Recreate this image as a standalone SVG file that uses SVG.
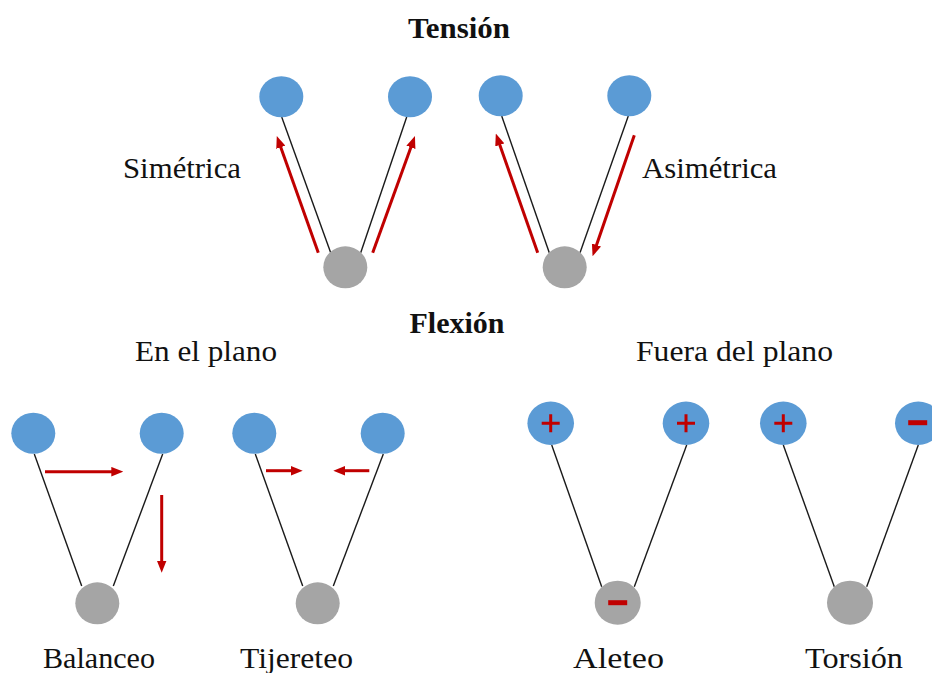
<svg xmlns="http://www.w3.org/2000/svg" width="932" height="673" viewBox="0 0 932 673">
<style>
.blue{fill:#5B9BD5}
.gray{fill:#A5A5A5}
.bond{stroke:#1a1a1a;stroke-width:1.4;fill:none}
.arr{stroke:#C00000;stroke-width:3;fill:none;marker-end:url(#ah)}
.sign{stroke:#C00000;fill:none}
.t{font-family:"Liberation Serif","Times New Roman",serif;font-size:29px;fill:#111}
.b{font-weight:bold}
</style>
<defs>
<marker id="ah" markerUnits="userSpaceOnUse" markerWidth="12" markerHeight="10" viewBox="0 0 10 8" refX="3" refY="4" orient="auto">
<path d="M0,0 L10,4 L0,8 z" fill="#C00000"/>
</marker>
</defs>
<rect width="932" height="673" fill="#fff"/>

<g id="labels">
<text class="t b" x="459" y="38" text-anchor="middle" textLength="102" lengthAdjust="spacingAndGlyphs">Tensión</text>
<text class="t" x="123" y="178" textLength="118" lengthAdjust="spacingAndGlyphs">Simétrica</text>
<text class="t" x="642" y="178" textLength="135" lengthAdjust="spacingAndGlyphs">Asimétrica</text>
<text class="t b" x="457" y="333" text-anchor="middle" textLength="95" lengthAdjust="spacingAndGlyphs">Flexión</text>
<text class="t" x="135" y="361" textLength="142" lengthAdjust="spacingAndGlyphs">En el plano</text>
<text class="t" x="636" y="361" textLength="197" lengthAdjust="spacingAndGlyphs">Fuera del plano</text>
<text class="t" x="43" y="668" textLength="112" lengthAdjust="spacingAndGlyphs">Balanceo</text>
<text class="t" x="240" y="668" textLength="113" lengthAdjust="spacingAndGlyphs">Tijereteo</text>
<text class="t" x="573" y="668" textLength="91" lengthAdjust="spacingAndGlyphs">Aleteo</text>
<text class="t" x="805" y="668" textLength="98" lengthAdjust="spacingAndGlyphs">Torsión</text>
</g>

<g id="connectors">
<line class="bond" x1="281.7" y1="117" x2="330.7" y2="252.7"/>
<line class="bond" x1="406.7" y1="117" x2="360.7" y2="252.7"/>
<line class="bond" x1="501.7" y1="116" x2="549.3" y2="252.7"/>
<line class="bond" x1="628.3" y1="116" x2="580" y2="252.7"/>
<line class="bond" x1="34.3" y1="454" x2="81.7" y2="586"/>
<line class="bond" x1="162.7" y1="454" x2="113.3" y2="586"/>
<line class="bond" x1="255.3" y1="454" x2="302.7" y2="586"/>
<line class="bond" x1="383.3" y1="454" x2="333.3" y2="586"/>
<line class="bond" x1="551.7" y1="445" x2="601.7" y2="586.7"/>
<line class="bond" x1="686.7" y1="445" x2="634.3" y2="586.7"/>
<line class="bond" x1="783.3" y1="445" x2="834.3" y2="586.7"/>
<line class="bond" x1="918.3" y1="445" x2="866.7" y2="586.7"/>

<line class="arr" x1="318.3" y1="252.7" x2="279.6" y2="143.9"/>
<line class="arr" x1="372.7" y1="252.7" x2="412.1" y2="143.9"/>
<line class="arr" x1="537.7" y1="252.7" x2="498.6" y2="141.5"/>
<line class="arr" x1="634.3" y1="135.3" x2="595.3" y2="248.4"/>
<line class="arr" x1="45" y1="471.7" x2="114.9" y2="471.7"/>
<line class="arr" x1="161.7" y1="495" x2="161.7" y2="564.3"/>
<line class="arr" x1="266" y1="470.7" x2="294.3" y2="470.7"/>
<line class="arr" x1="369.3" y1="470.7" x2="341.7" y2="470.7"/>
</g>

<g id="sym-left"><ellipse class="blue" cx="281.3" cy="96.7" rx="22" ry="20.5"/></g>
<g id="sym-right"><ellipse class="blue" cx="410" cy="96.7" rx="22" ry="20.5"/></g>
<g id="sym-center"><ellipse class="gray" cx="345.3" cy="267.3" rx="22" ry="21"/></g>

<g id="asym-left"><ellipse class="blue" cx="500.7" cy="95.7" rx="22" ry="20.5"/></g>
<g id="asym-right"><ellipse class="blue" cx="629.3" cy="95.7" rx="22" ry="20.5"/></g>
<g id="asym-center"><ellipse class="gray" cx="564.7" cy="267.3" rx="22" ry="21"/></g>

<g id="bal-left"><ellipse class="blue" cx="33.3" cy="433.3" rx="22" ry="20.5"/></g>
<g id="bal-right"><ellipse class="blue" cx="161.7" cy="433.3" rx="22" ry="20.5"/></g>
<g id="bal-center"><ellipse class="gray" cx="97.3" cy="603.3" rx="22" ry="21"/></g>

<g id="tij-left"><ellipse class="blue" cx="254.3" cy="433.3" rx="22" ry="20.5"/></g>
<g id="tij-right"><ellipse class="blue" cx="382.7" cy="433.3" rx="22" ry="20.5"/></g>
<g id="tij-center"><ellipse class="gray" cx="317.7" cy="603.3" rx="22" ry="21"/></g>

<g id="ale-left"><ellipse class="blue" cx="550.7" cy="423.3" rx="23.3" ry="21.7"/><path class="sign" stroke-width="3" d="M541.7,423.3 H559.7 M550.7,414.3 V432.3"/></g>
<g id="ale-right"><ellipse class="blue" cx="686" cy="423.3" rx="23.3" ry="21.7"/><path class="sign" stroke-width="3" d="M677,423.3 H695 M686,414.3 V432.3"/></g>
<g id="ale-center"><ellipse class="gray" cx="617.7" cy="602.7" rx="23" ry="22"/><path class="sign" stroke-width="5" d="M608.2,602.7 H627.2"/></g>

<g id="tor-left"><ellipse class="blue" cx="783.3" cy="423.3" rx="23.3" ry="21.7"/><path class="sign" stroke-width="3" d="M774.3,423.3 H792.3 M783.3,414.3 V432.3"/></g>
<g id="tor-right"><ellipse class="blue" cx="918.3" cy="423.3" rx="23.3" ry="21.7"/><path class="sign" stroke-width="5" d="M908.2,422.7 H927.2"/></g>
<g id="tor-center"><ellipse class="gray" cx="850" cy="602.7" rx="23" ry="22"/></g>
</svg>
